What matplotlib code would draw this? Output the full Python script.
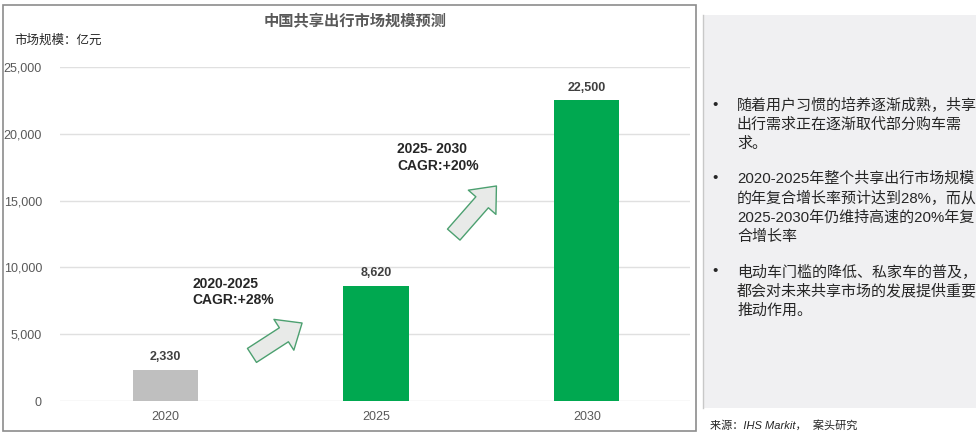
import matplotlib.pyplot as plt
from matplotlib.patches import Rectangle, FancyArrowPatch

plt.rcParams['font.family'] = ['Liberation Sans', 'Noto Sans CJK SC', 'DejaVu Sans']

# data
years = ['2020', '2025', '2030']
market_size = [2330, 8620, 22500]
bar_colors = ['#BFBFBF', '#00A850', '#00A850']
y_ticks = [0, 5000, 10000, 15000, 20000, 25000]
cagr_texts = ['2020-2025\nCAGR:+28%', '2025- 2030\nCAGR:+20%']
notes = [
    '随着用户习惯的培养逐渐成熟，共享\n出行需求正在逐渐取代部分购车需\n求。',
    '2020-2025年整个共享出行市场规模\n的年复合增长率预计达到28%，而从\n2025-2030年仍维持高速的20%年复\n合增长率',
    '电动车门槛的降低、私家车的普及，\n都会对未来共享市场的发展提供重要\n推动作用。',
]
source = '来源：IHS Markit，  案头研究'

fig = plt.figure(figsize=(9.76, 4.36), dpi=100)
W, H = 976, 436

# outer frame of the chart
fig.patches.append(Rectangle((3 / W, 1 - 431 / H), 693 / W, 426 / H, transform=fig.transFigure,
                             facecolor='white', edgecolor='#8C8C8C', lw=1.2, zorder=-10))
# right-side grey panel
fig.patches.append(Rectangle((703 / W, 1 - 408 / H), 273 / W, 393 / H, transform=fig.transFigure,
                             facecolor='#F0F0F2', edgecolor='none', zorder=-10))
fig.lines.append(plt.Line2D([703 / W, 703 / W], [1 - 408 / H, 1 - 15 / H], transform=fig.transFigure,
                            color='#C8C8C8', lw=1, zorder=-9))

ax = fig.add_axes([60 / W, 1 - 401 / H, 630 / W, 334 / H])
ax.set_facecolor('none')
x = range(len(years))
bars = ax.bar(x, market_size, width=0.31, color=bar_colors, zorder=3)
ax.set_xlim(-0.5, 2.49)
ax.set_ylim(0, 25000)
ax.set_yticks(y_ticks)
ax.set_yticklabels([f'{v:,}' for v in y_ticks], fontsize=9, color='#595959')
ax.set_xticks(list(x))
ax.set_xticklabels(years, fontsize=9, color='#595959')
ax.tick_params(length=0)
ax.tick_params(axis='y', pad=13)
ax.tick_params(axis='x', pad=7)
ax.grid(axis='y', color='#E0E0E0', lw=1, zorder=0)
for s in ax.spines.values():
    s.set_visible(False)

for rect, v in zip(bars, market_size):
    ax.text(rect.get_x() + rect.get_width() / 2, v + 500, f'{v:,}', ha='center', va='bottom',
            fontsize=9, color='#404040', fontweight='bold')

# CAGR notes and block arrows
ax.text(0.128, 9300, cagr_texts[0], ha='left', va='top', fontsize=10, fontweight='bold',
        color='#262626', linespacing=1.2)
ax.text(1.10, 19350, cagr_texts[1], ha='left', va='top', fontsize=10, fontweight='bold',
        color='#262626', linespacing=1.2)
for (x0, y0), (x1, y1) in [((0.40, 3300), (0.66, 5950)), ((1.36, 12300), (1.58, 16250))]:
    arr = FancyArrowPatch((x0, y0), (x1, y1), arrowstyle='simple,head_width=2.2,head_length=1.3,tail_width=1.0',
                          mutation_scale=12, facecolor='#E8EAE8', edgecolor='#4CA070', lw=1, zorder=4)
    ax.add_patch(arr)

fig.text(355 / W, 1 - 22 / H, '中国共享出行市场规模预测', ha='center', va='center', fontsize=11,
         fontweight='bold', color='#595959')
fig.text(14 / W, 1 - 41 / H, '市场规模：亿元', ha='left', va='center', fontsize=9, color='#262626')

# bullet notes
tops = [98, 171, 264]
for top, note in zip(tops, notes):
    fig.text(712 / W, 1 - top / H, '•', ha='left', va='top', fontsize=11, color='#262626')
    fig.text(737 / W, 1 - top / H, note, ha='left', va='top', fontsize=10.8, color='#262626',
             linespacing=1.42)

fig.text(710 / W, 1 - 425 / H, source, ha='left', va='center', fontsize=8, style='italic',
         color='#262626')

fig.savefig('out.png', dpi=100)
